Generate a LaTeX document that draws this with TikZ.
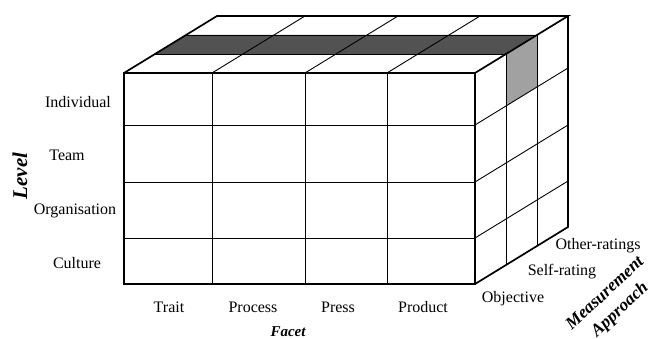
\documentclass[tikz,border=0pt]{standalone}
\usepackage{fontspec}
\setmainfont{Liberation Serif}
\begin{document}
\begin{tikzpicture}[x=1pt,y=-1pt,
  thinline/.style={line width=0.9pt},
  thickline/.style={line width=1.7pt,line join=miter},
  lbl/.style={font=\fontsize{16}{19}\selectfont,inner sep=0pt},
  axis/.style={font=\fontsize{15}{16}\selectfont\bfseries\itshape,inner sep=0pt,align=center}]
\useasboundingbox (0,0) rectangle (663,339);
% shaded cells
\fill[black!68] (155,54) -- (506,54) -- (537,35) -- (186,35) -- cycle;
\fill[black!37] (506,54) -- (537,35) -- (537,87) -- (506,106) -- cycle;
% front grid
\foreach \x in {212,305,387} \draw[thinline] (\x,73) -- (\x,284);
\foreach \y in {125,182,238} \draw[thinline] (124,\y) -- (475,\y);
% top grid
\foreach \x in {212,305,387} \draw[thinline] (\x,73) -- (\x+93,16);
\foreach \k in {1,2} \draw[thinline] (124+31*\k,73-19*\k) -- (475+31*\k,73-19*\k);
% side grid
\foreach \k in {1,2} \draw[thinline] (475+31*\k,73-19*\k) -- (475+31*\k,284-19*\k);
\foreach \y in {125,182,238} \draw[thinline] (475,\y) -- (568,\y-57);
% outlines
\draw[thickline] (124,73) rectangle (475,284);
\draw[thickline] (124,73) -- (217,16) -- (568,16) -- (475,73);
\draw[thickline] (568,16) -- (568,227) -- (475,284);
% level labels
\node[lbl] (ind) at (78,102) {Individual};
\node[lbl] (team) at (67,155) {Team};
\node[lbl] (org) at (75,211) {Organisation};
\node[lbl] (cul) at (77,263) {Culture};
\node[axis,font=\fontsize{21}{22}\selectfont\bfseries\itshape,rotate=90] (level) at (20,176) {Level};
% facet labels
\node[lbl] (trait) at (169,307) {Trait};
\node[lbl] (proc) at (253,307) {Process};
\node[lbl] (press) at (338,307) {Press};
\node[lbl] (prod) at (423,307) {Product};
\node[axis] (facet) at (288,332) {Facet};
% measurement labels
\node[lbl] (obj) at (513,299) {Objective};
\node[lbl] (self) at (562,272) {Self-rating};
\node[lbl] (other) at (598,246) {Other-ratings};
\node[axis,font=\fontsize{17.5}{22}\selectfont\bfseries\itshape,rotate=43] (meas) at (613,302) {Measurement\\Approach};
\end{tikzpicture}
\end{document}
